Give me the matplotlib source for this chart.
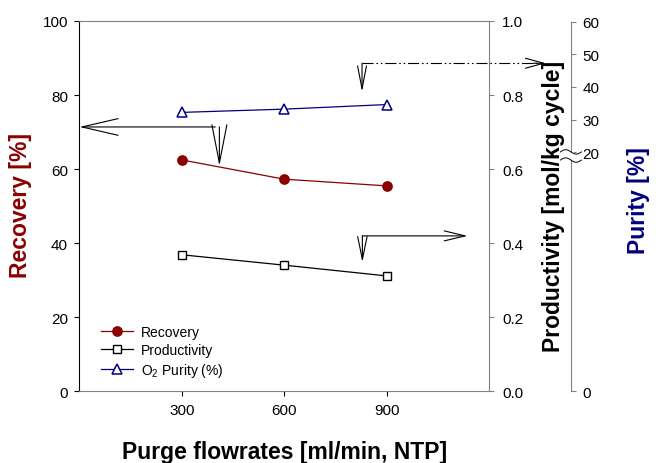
import numpy as np
import matplotlib.pyplot as plt
import matplotlib.transforms as mtransforms
from matplotlib.patches import Rectangle

plt.rcParams['font.family'] = ['Liberation Sans', 'DejaVu Sans']
plt.rcParams['mathtext.fontset'] = 'custom'
plt.rcParams['mathtext.rm'] = 'Liberation Sans'
plt.rcParams['mathtext.default'] = 'regular'

# data
flow = [300, 600, 900]
recovery = [62.5, 57.3, 55.5]
productivity = [0.369, 0.341, 0.312]
purity = [32.2, 33.2, 34.6]

x_ticks = [300, 600, 900]
rec_ticks = [0, 20, 40, 60, 80, 100]
prod_ticks = [0.0, 0.2, 0.4, 0.6, 0.8, 1.0]
pur_ticks = [20, 30, 40, 50, 60]
pur_low = -53.3   # where the "0" of the broken purity axis sits

red = '#8b0000'
navy = '#000080'
gray = '#808080'

fig = plt.figure(figsize=(6.59, 4.64), dpi=100)
ax = fig.add_axes([0.1206, 0.1541, 0.6214, 0.7985])
ax2 = ax.twinx()
ax3 = ax.twinx()

# recovery (left)
l1, = ax.plot(flow, recovery, color=red, lw=0.9, marker='o', ms=6.7,
              mfc=red, mec=red, label='Recovery')
ax.set_xlim(0, 1200)
ax.set_ylim(0, 100)
ax.set_xticks(x_ticks)
ax.set_yticks(rec_ticks)
ax.tick_params(axis='both', direction='out', length=3.8, width=0.8,
               labelsize=11, pad=4.5)
ax.spines['left'].set_color('k')
for s in ['top', 'bottom']:
    ax.spines[s].set_color(gray)
ax.spines['right'].set_visible(False)
ax.set_ylabel('Recovery [%]', color=red, fontsize=16.5, fontweight='bold')
ax.yaxis.set_label_coords(-0.116, 0.506)
ax.set_xlabel('Purge flowrates [ml/min, NTP]', fontsize=16.5, fontweight='bold')
ax.xaxis.set_label_coords(0.5, -0.131)

# productivity (first right axis)
l2, = ax2.plot(flow, productivity, color='k', lw=0.9, marker='s', ms=5.5,
               mfc='white', mec='k', label='Productivity')
ax2.set_ylim(0, 1)
ax2.set_yticks(prod_ticks)
ax2.set_yticklabels(['%.1f' % v for v in prod_ticks])
ax2.tick_params(axis='y', direction='out', length=3.8, width=0.8,
                labelsize=11, pad=5.5, color=gray)
for s in ['top', 'bottom', 'left']:
    ax2.spines[s].set_visible(False)
ax2.spines['right'].set_color(gray)
ax2.set_ylabel('Productivity [mol/kg cycle]', fontsize=16.5, fontweight='bold')
ax2.yaxis.set_label_coords(1.129, 0.502)

# purity (second right axis, broken below 20)
l3, = ax3.plot(flow, purity, color=navy, lw=0.9, marker='^', ms=7.5,
               mfc='white', mec=navy, mew=1.1, label='O$_2$ Purity (%)')
ax3.spines['right'].set_position(('outward', 59))
ax3.set_ylim(pur_low, 60.2)
ax3.set_yticks([pur_low] + pur_ticks)
ax3.set_yticklabels(['0'] + [str(v) for v in pur_ticks])
ax3.spines['right'].set_bounds(pur_low, 60)
ax3.tick_params(axis='y', direction='out', length=3.8, width=0.8,
                labelsize=11, pad=4.5, color=gray)
for s in ['top', 'bottom', 'left']:
    ax3.spines[s].set_visible(False)
ax3.spines['right'].set_color(gray)
ax3.set_ylabel('Purity [%]', color=navy, fontsize=16.5, fontweight='bold')
ax3.yaxis.set_label_coords(1.336, 0.518)

# axis break marks
bt = mtransforms.blended_transform_factory(ax3.transAxes, ax3.transData)
sx = 1 + 59 * 100 / 72 / (0.6214 * 659)
px_x = 1 / (0.6214 * 659)
px_y = (60.2 - pur_low) / (0.7985 * 464)
ax3.add_patch(Rectangle((sx - 3 * px_x, 17.6), 6 * px_x, 2.5, transform=bt,
                        facecolor='white', edgecolor='none', clip_on=False, zorder=5))
t = np.linspace(0, 1, 40)
for yb in [20.1, 17.6]:
    ax3.plot(sx + (t - 0.5) * 21 * px_x, yb + 2.2 * px_y * np.sin(2 * np.pi * t),
             transform=bt, color='k', lw=0.7, clip_on=False, zorder=6)

# arrows pointing to the axes
def arrow(p0, p1, hl, hw, ls='-'):
    ax.annotate('', xy=p1, xytext=p0, annotation_clip=False,
                arrowprops=dict(arrowstyle='->,head_length=%g,head_width=%g' % (hl, hw),
                                mutation_scale=1, lw=0.8, color='k', ls=ls,
                                shrinkA=0, shrinkB=0))

arrow((398, 71.4), (0, 71.4), 26, 6)
arrow((410, 71.4), (410, 60.9), 27.5, 5.4)

ax.plot([828, 1340], [88.6, 88.6], color='k', lw=0.8, clip_on=False,
        dashes=[10, 2.5, 1.5, 2.5, 1.5, 2.5])
arrow((1330, 88.6), (1366, 88.6), 13, 3.6)
arrow((828, 88.6), (828, 80.9), 16.5, 3.2)

arrow((829, 42.0), (1137, 42.0), 15, 3.6)
arrow((829, 42.0), (829, 34.9), 16.5, 3.4)

ax.legend(handles=[l1, l2, l3], loc='upper left', bbox_to_anchor=(0.052, 0.180),
          frameon=False, fontsize=10, handlelength=2.3, handletextpad=0.6,
          labelspacing=0.3, borderpad=0, borderaxespad=0)

fig.savefig('out.png', dpi=100)
